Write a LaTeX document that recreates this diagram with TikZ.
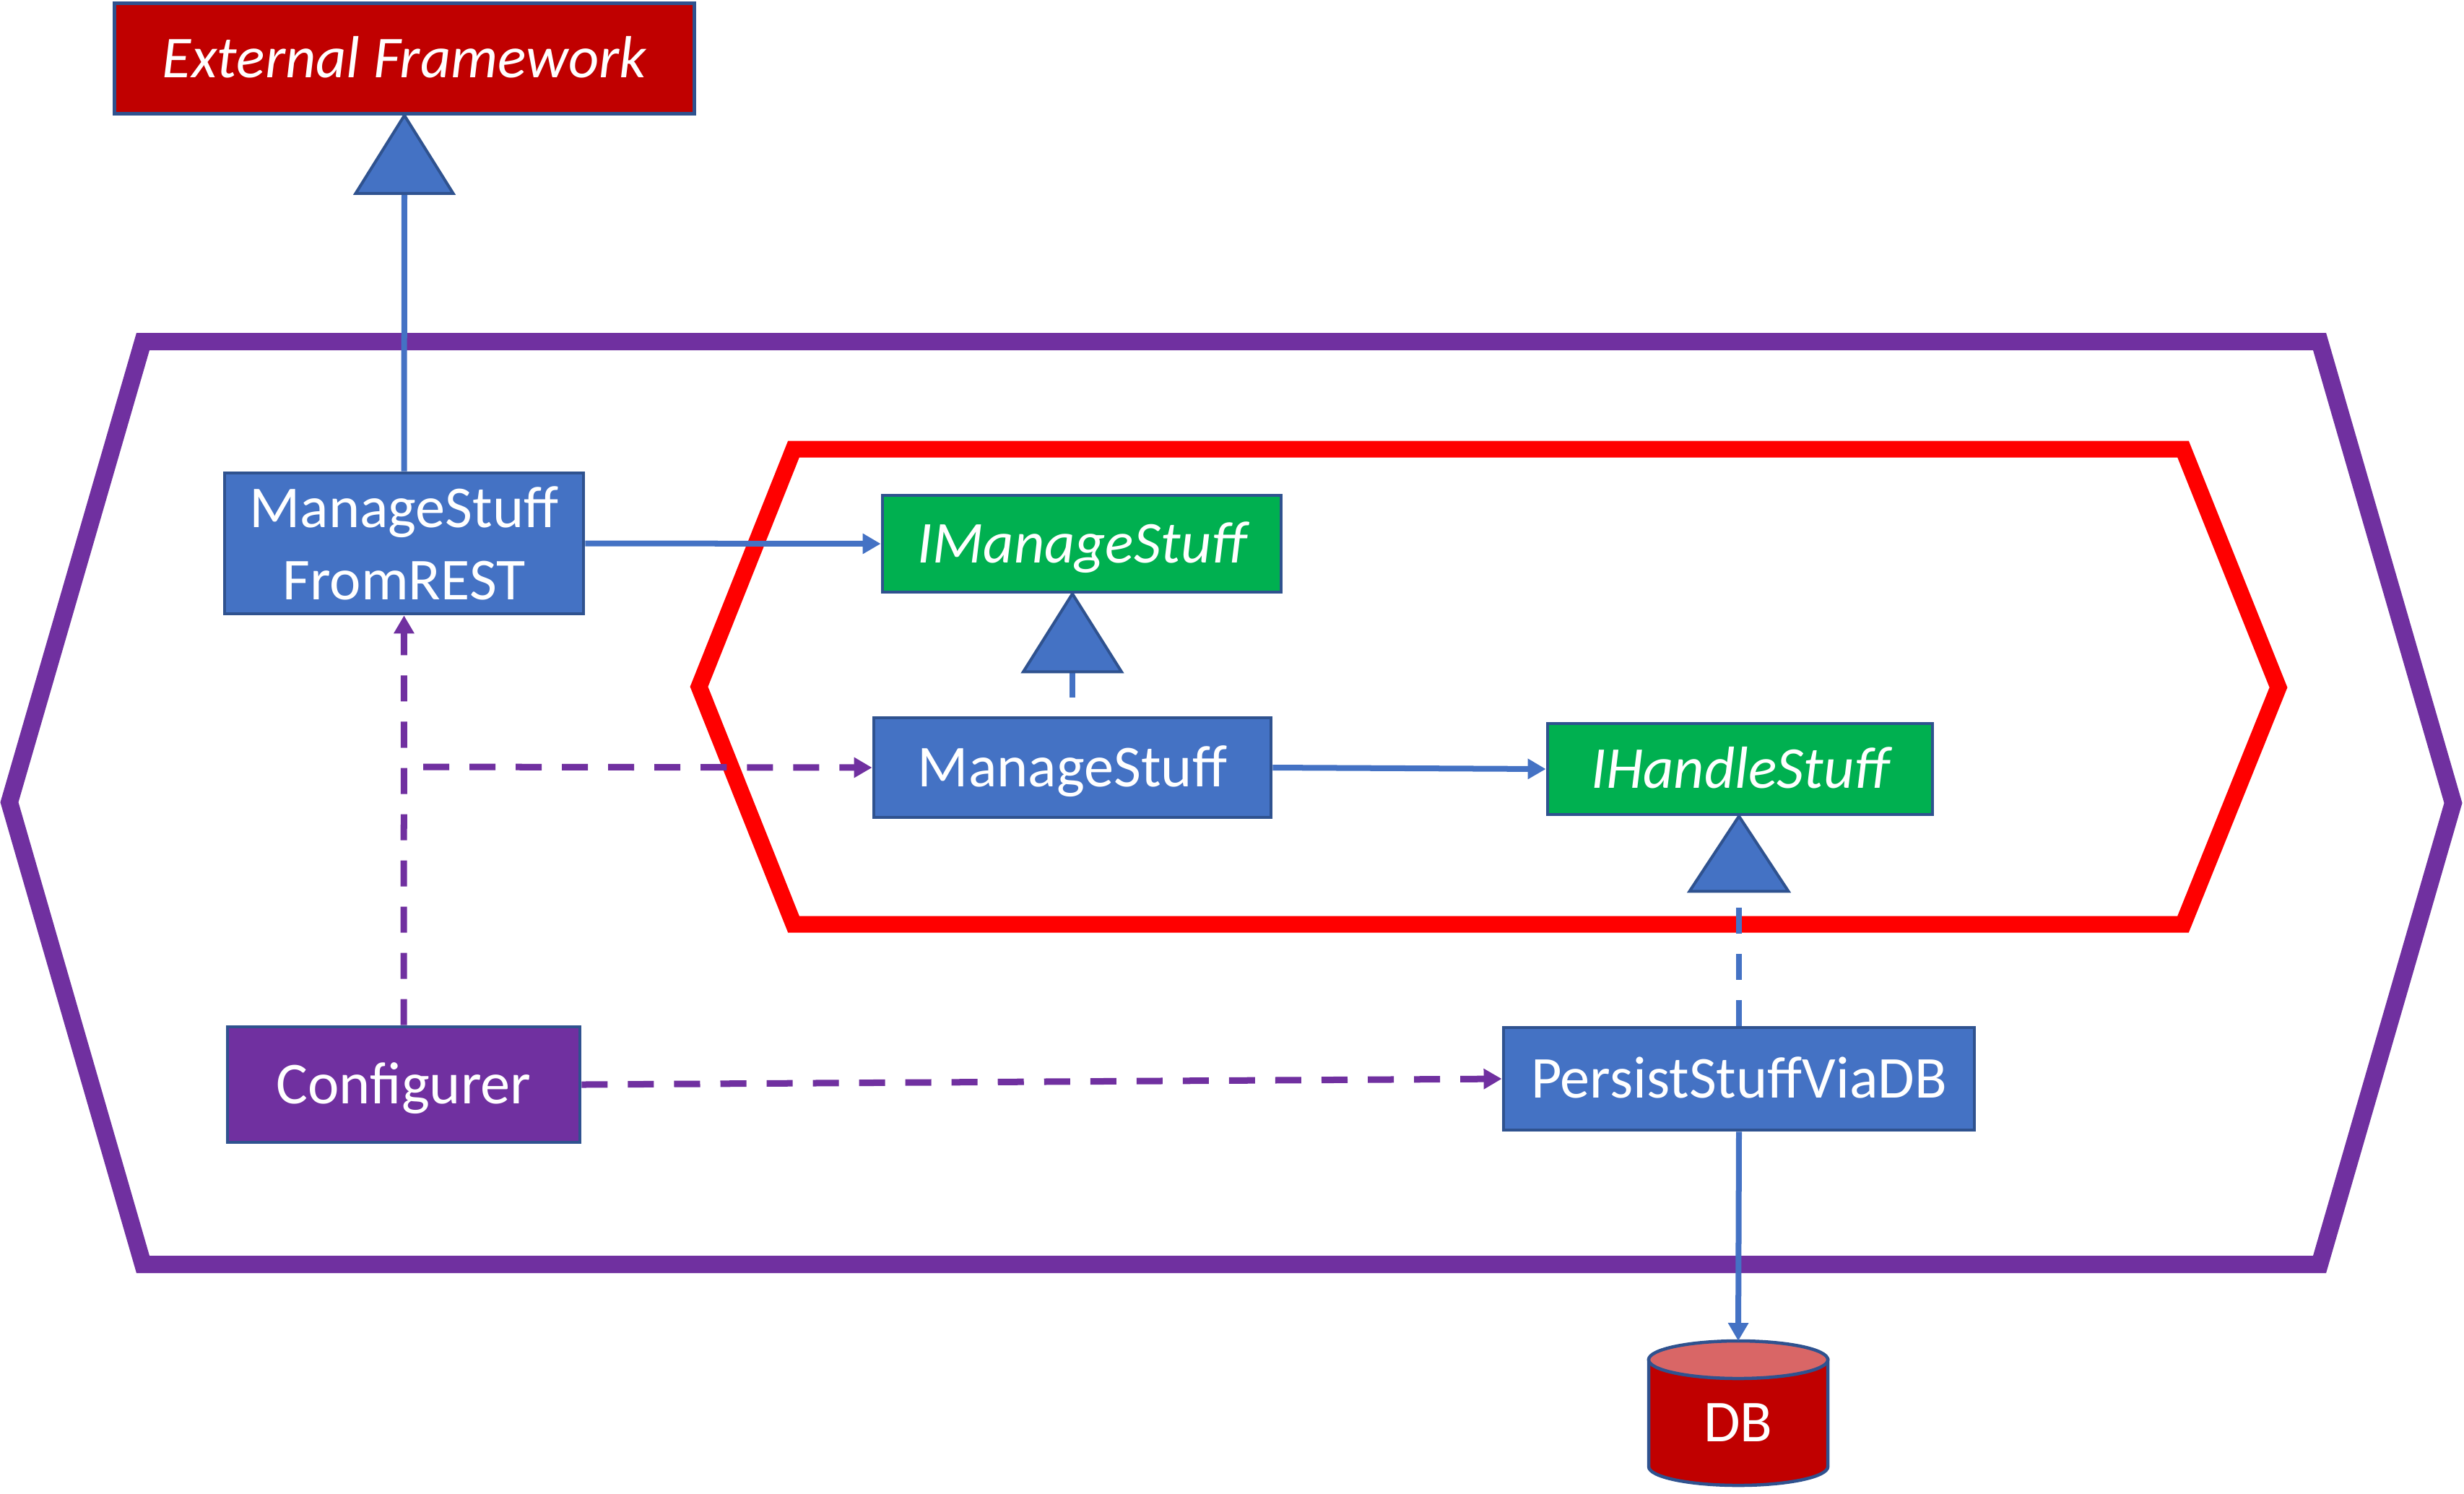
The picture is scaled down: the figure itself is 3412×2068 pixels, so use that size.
\documentclass[tikz,border=0pt]{standalone}
\usepackage{fontspec}
\setmainfont{Carlito}
\usetikzlibrary{arrows.meta,calc}
\definecolor{cblue}{HTML}{4472C4}
\definecolor{cbdr}{HTML}{2F528F}
\definecolor{cpurple}{HTML}{7030A0}
\definecolor{cred}{HTML}{FF0000}
\definecolor{cdred}{HTML}{C00000}
\definecolor{cgreen}{HTML}{00B050}
\definecolor{cdbtop}{HTML}{D96666}
\begin{document}
\begin{tikzpicture}[x=0.01cm,y=-0.01cm,
  boxfont/.style={font=\fontsize{23.4pt}{28.3pt}\selectfont},
  box/.style={draw=cbdr, line width=0.045cm, text=white, inner sep=0pt, align=center, boxfont},
  oneline/.style={text height=15.1pt, text depth=0pt},
  bluebox/.style={box, fill=cblue},
  ifacebox/.style={box, fill=cgreen, font=\fontsize{23.4pt}{28.3pt}\selectfont\itshape},
  extbox/.style={box, fill=cdred, font=\fontsize{23.4pt}{28.3pt}\selectfont\itshape},
  cfgbox/.style={box, fill=cpurple},
  tri/.style={fill=cblue, draw=cbdr, line width=0.04cm, line join=miter},
  bline/.style={draw=cblue, line width=0.08cm},
  barrow/.style={bline, -{Triangle[length=0.25cm,width=0.27cm]}},
  dashpat/.style={dash pattern=on 0.36cm off 0.28cm},
  parrow/.style={draw=cpurple, line width=0.09cm, dashpat, -{Triangle[length=0.25cm,width=0.27cm]}},
  hexpurple/.style={draw=cpurple, line width=0.24cm, line join=miter},
  hexred/.style={draw=cred, line width=0.23cm, line join=miter}
]
\useasboundingbox (0,0) rectangle (3412,2068);

% hexagons
\draw[hexpurple] (198,473) -- (3212,473) -- (3397,1112) -- (3212,1751) -- (198,1751) -- (13,1111) -- cycle;
\draw[hexred] (1099,622) -- (3023,622) -- (3155,952) -- (3023,1280) -- (1099,1280) -- (968,951) -- cycle;

% nodes
\node[extbox, oneline, minimum width=8.03cm, minimum height=1.53cm] (ef) at (560,81) {External Framework};
\node[bluebox, minimum width=4.97cm, minimum height=1.95cm] (msr) at (559.5,752.5) {ManageStuff\\FromREST};
\node[ifacebox, oneline, minimum width=5.52cm, minimum height=1.34cm] (ims) at (1498,753) {IManageStuff};
\node[bluebox, oneline, minimum width=5.50cm, minimum height=1.38cm] (ms) at (1485,1063) {ManageStuff};
\node[ifacebox, oneline, minimum width=5.33cm, minimum height=1.26cm] (ihs) at (2409.5,1065) {IHandleStuff};
\node[cfgbox, oneline, minimum width=4.88cm, minimum height=1.60cm] (cfg) at (559,1502) {Configurer};
\node[bluebox, oneline, minimum width=6.52cm, minimum height=1.42cm] (ps) at (2408,1494) {PersistStuffViaDB};

% database cylinder
\path[draw=cbdr, fill=cdred, line width=0.045cm] (2283,1883) -- (2283,2031)
  arc[start angle=180, end angle=360, x radius=1.24cm, y radius=0.26cm] -- (2531,1883) -- cycle;
\path[draw=cbdr, fill=cdbtop, line width=0.045cm] (2407,1883) ellipse [x radius=1.24cm, y radius=0.26cm];
\node[boxfont, oneline, text=white, inner sep=0pt] (db) at (2407,1970) {DB};
\coordinate (dbtop) at (2407,1857);

% inheritance / realization triangles
\coordinate (t1) at (ef.south);
\coordinate (t1b) at ($(t1)+(0,108)$);
\coordinate (t2) at (ms.north |- ims.south);
\coordinate (t2b) at ($(t2)+(0,108)$);
\coordinate (t3) at (ps.north |- ihs.south);
\coordinate (t3b) at ($(t3)+(0,104)$);

% connectors
\draw[bline] (msr.north) -- (t1b);
\draw[bline, dashpat] (t2b) -- (ms.north);
\draw[bline, dashpat] (ps.north) -- (t3b);
\draw[barrow] (msr.east) -- (ims.west);
\draw[barrow] (ms.east) -- (ihs.west);
\draw[barrow] (ps.south) -- (dbtop);

\coordinate (pstart) at (586,1062);
\draw[parrow] (cfg.north) -- (msr.south);
\draw[parrow] (pstart) -- (ms.west);
\draw[parrow] (cfg.east) -- (ps.west);

\draw[tri] (t1) -- ++(-67.5,108) -- ++(135,0) -- cycle;
\draw[tri] (t2) -- ++(-68,108) -- ++(136,0) -- cycle;
\draw[tri] (t3) -- ++(-68.5,104) -- ++(137,0) -- cycle;
\end{tikzpicture}
\end{document}
